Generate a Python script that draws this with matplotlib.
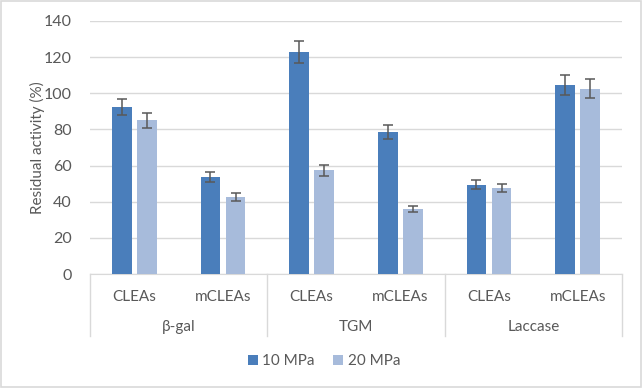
import matplotlib.pyplot as plt
import numpy as np
from matplotlib.patches import Rectangle

plt.rcParams["font.family"] = ["Lato", "DejaVu Sans"]

GROUPS = ["β-gal", "TGM", "Laccase"]
FORMS = ["CLEAs", "mCLEAs"]
SERIES = ["10 MPa", "20 MPa"]

VAL_10 = [92.5, 53.5, 123, 78.5, 49.5, 104.7]
ERR_10 = [4.6, 2.8, 6.2, 3.8, 2.7, 5.4]
VAL_20 = [85, 42.5, 57.5, 36, 47.5, 102.5]
ERR_20 = [4.2, 2.2, 3.0, 1.6, 2.4, 5.3]

C10 = "#4a7ebb"
C20 = "#a7bbdb"
TXT = "#595959"
GRID = "#d9d9d9"

fig = plt.figure(figsize=(6.43, 3.88), dpi=100)
ax = fig.add_axes([90 / 643, 114 / 388, 532 / 643, 253 / 388])

x = np.arange(len(VAL_10))
w = 0.225
off = 0.141
err_kw = dict(ecolor=TXT, elinewidth=1.1, capsize=3.5, capthick=1.1)
ax.bar(x - off, VAL_10, w, yerr=ERR_10, color=C10, label=SERIES[0], error_kw=err_kw, zorder=3)
ax.bar(x + off, VAL_20, w, yerr=ERR_20, color=C20, label=SERIES[1], error_kw=err_kw, zorder=3)

ax.set_xlim(-0.5, len(x) - 0.5)
ax.set_ylim(0, 140)
ax.set_yticks(range(0, 141, 20))
ax.yaxis.grid(True, color=GRID, lw=1, zorder=0)
ax.tick_params(axis="y", length=0, labelsize=11.5, labelcolor=TXT, pad=13)
ax.set_xticks([])
for s in ["top", "right", "left"]:
    ax.spines[s].set_visible(False)
ax.spines["bottom"].set_color(GRID)
ax.set_ylabel("Residual activity (%)", fontsize=11, color=TXT)
ax.yaxis.set_label_coords(-45 / 532, 0.5)

# two-level category axis
trans = ax.get_xaxis_transform()
px = 1 / 253
for i, xi in enumerate(x):
    ax.text(xi, -23 * px, FORMS[i % 2], transform=trans, ha="center", va="center",
            fontsize=11, color=TXT)
for g, name in enumerate(GROUPS):
    ax.text(2 * g + 0.5, -53 * px, name, transform=trans, ha="center", va="center",
            fontsize=11, color=TXT)
for b in [-0.5, 1.5, 3.5, 5.5]:
    ax.plot([b, b], [0, -62 * px], transform=trans, color=GRID, lw=1, clip_on=False)

leg = fig.legend(loc="center", bbox_to_anchor=(324 / 643, 1 - 361 / 388), ncol=2, frameon=False,
                 fontsize=11, handlelength=0.65, handleheight=0.65, handletextpad=0.3,
                 columnspacing=1.2)
for t in leg.get_texts():
    t.set_color(TXT)

fig.patches.append(Rectangle((0.002, 0.003), 0.995, 0.994, transform=fig.transFigure,
                             fill=False, edgecolor=GRID, lw=1.2))

fig.savefig("out.png", dpi=100)
